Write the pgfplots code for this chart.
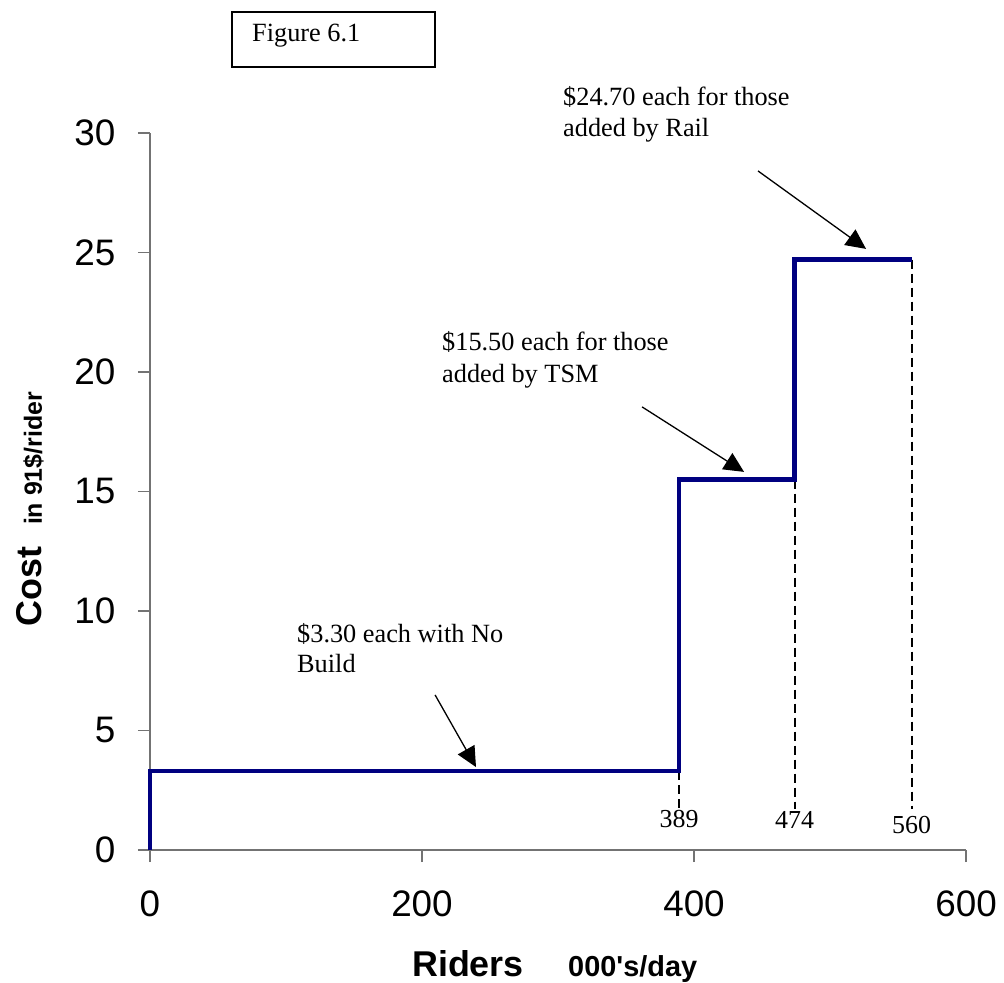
\documentclass[border=0pt]{standalone}
\usepackage{fontspec}
\setmainfont{Liberation Serif}
\newfontfamily\arial{Liberation Sans}
\usepackage{pgfplots}
\pgfplotsset{compat=1.18}
\usetikzlibrary{arrows.meta}
\definecolor{navy}{RGB}{0,0,128}
\begin{document}
\begin{tikzpicture}[x=1bp,y=1bp]
\useasboundingbox (-150,-133) rectangle (854,850);
\begin{axis}[
  at={(0,0)}, anchor=south west,
  scale only axis, width=816bp, height=717bp,
  xmin=0, xmax=600, ymin=0, ymax=30,
  axis x line=bottom, axis y line=left,
  axis line style={-, black!55, line width=1.3bp},
  tick style={black!55, line width=1.3bp},
  tick align=outside, major tick length=12bp,
  xtick={0,200,400,600}, ytick={0,5,10,15,20,25,30},
  minor tick num=0,
  /pgf/number format/assume math mode=true,
  ticklabel style={font=\arial\fontsize{37}{37}\selectfont, text=black},
  yticklabel style={xshift=-19bp},
  xticklabel style={yshift=-25bp},
  clip=false,
]
\addplot[black, line width=1.8bp, dash pattern=on 9bp off 5bp] coordinates {(389,3.3)(389,1.7)};
\addplot[black, line width=1.8bp, dash pattern=on 9bp off 5bp] coordinates {(474,15.5)(474,1.7)};
\addplot[black, line width=1.8bp, dash pattern=on 9bp off 5bp] coordinates {(560,24.7)(560,1.7)};
\addplot[navy, line width=4.5bp, line join=miter] coordinates {(0,0)(0,3.3)(389,3.3)(389,15.5)(474,15.5)(474,24.7)(560,24.7)};
\addplot[black, line width=1.3bp, -{Triangle[length=20bp,width=19bp]}] coordinates {(209.6,6.49)(239.7,3.47)};
\addplot[black, line width=1.3bp, -{Triangle[length=20bp,width=19bp]}] coordinates {(361.8,18.54)(436.8,15.82)};
\addplot[black, line width=1.3bp, -{Triangle[length=20bp,width=19bp]}] coordinates {(447.1,28.41)(526.5,25.15)};
\node[anchor=base, inner sep=0pt, font=\fontsize{26}{26}\selectfont] at (axis cs:389,0.96) {389};
\node[anchor=base, inner sep=0pt, font=\fontsize{26}{26}\selectfont] at (axis cs:474,0.88) {474};
\node[anchor=base, inner sep=0pt, font=\fontsize{26}{26}\selectfont] at (axis cs:560,0.71) {560};
\end{axis}
\begin{scope}[every node/.style={inner sep=0pt, font=\fontsize{26.4}{26.4}\selectfont}]
\node[anchor=base west] at (147,207) {\$3.30 each with No};
\node[anchor=base west] at (147,177) {Build};
\node[anchor=base west] at (292,499) {\$15.50 each for those};
\node[anchor=base west] at (292,467) {added by TSM};
\node[anchor=base west] at (413,744) {\$24.70 each for those};
\node[anchor=base west] at (413,713) {added by Rail};
\draw[black, line width=1.5bp] (82,838) rectangle (285,783);
\node[anchor=base west] at (102,808) {Figure 6.1};
\end{scope}
\node[anchor=base west, inner sep=0pt, font=\arial\bfseries\fontsize{36}{36}\selectfont] at (262,-126) {Riders};
\node[anchor=base west, inner sep=0pt, font=\arial\bfseries\fontsize{29}{29}\selectfont] at (418,-126) {000's/day};
\node[anchor=base, rotate=90, inner sep=0pt, font=\arial\bfseries\fontsize{36}{36}\selectfont] at (-108,263.5) {Cost};
\node[anchor=base, rotate=90, inner sep=0pt, font=\arial\bfseries\fontsize{25}{25}\selectfont] at (-108,391.5) {in 91\$/rider};
\end{tikzpicture}
\end{document}
